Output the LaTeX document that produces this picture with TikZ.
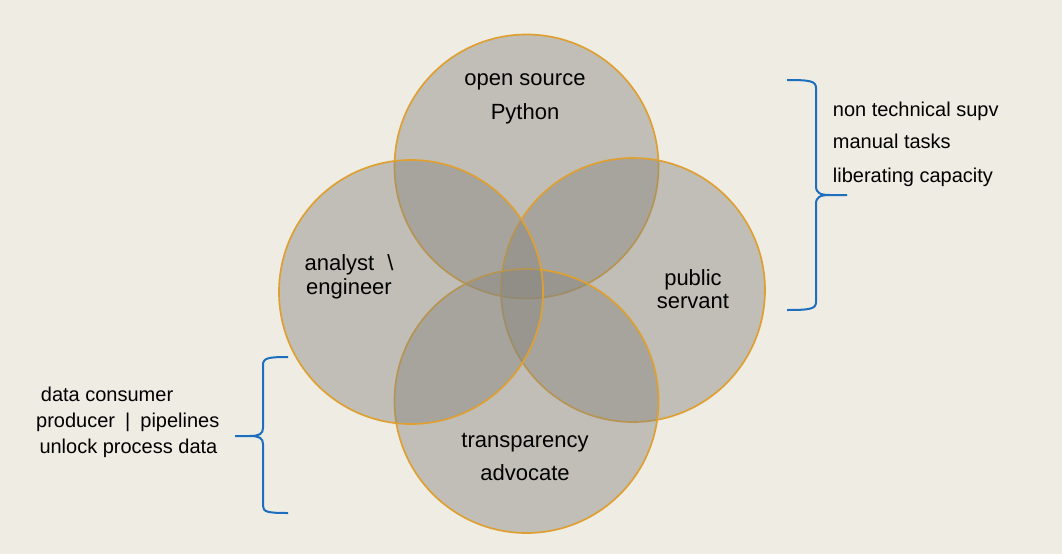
\documentclass[tikz,border=0pt]{standalone}
\usepackage{fontspec}
\setmainfont{Liberation Sans}
\definecolor{bgcol}{RGB}{239,236,228}
\definecolor{circfill}{RGB}{135,134,126}
\definecolor{circline}{RGB}{222,160,50}
\definecolor{bracecol}{RGB}{30,110,190}
\tikzset{
  venn/.style={circle, minimum size=264pt, inner sep=0pt, fill=circfill, fill opacity=0.45, draw=circline, draw opacity=1, line width=1.7pt},
  clabel/.style={anchor=base, inner sep=0pt, font=\fontsize{22}{26}\selectfont, text=black},
  slabel/.style={anchor=base west, inner sep=0pt, font=\fontsize{20}{24}\selectfont, text=black},
  bracepath/.style={draw=bracecol, line width=2pt}
}
\begin{document}
\begin{tikzpicture}[x=1pt,y=-1pt]
\fill[bgcol] (0,0) rectangle (1062,554);
\useasboundingbox (0,0) rectangle (1062,554);
% circles (draw order matters for muted borders)
\node[venn] (top) at (526.5,166.5) {};
\node[venn] (right) at (633,290) {};
\node[venn] (bottom) at (526.5,401) {};
\node[venn] (left) at (411,292) {};
% circle labels
\node[clabel] (t1) at (525,85) {open source};
\node[clabel] (t2) at (525,119) {Python};
\node[clabel] (l1) at (349,270) {analyst\hspace{13pt}\textbackslash};
\node[clabel] (l2) at (349,294) {engineer};
\node[clabel] (r1) at (693,285) {public};
\node[clabel] (r2) at (693,308) {servant};
\node[clabel] (b1) at (525,447) {transparency};
\node[clabel] (b2) at (525,480) {advocate};
% side labels
\node[slabel] (s1) at (832.7,116) {non technical supv};
\node[slabel] (s2) at (832.7,148) {manual tasks};
\node[slabel] (s3) at (832.7,182) {liberating capacity};
\node[slabel] (p1) at (40.7,401) {data consumer};
\node[slabel] (p2) at (36,427) {producer\hspace{4.5pt} | \hspace{4.5pt}pipelines};
\node[slabel] (p3) at (39.3,453) {unlock process data};
% right brace
\coordinate (rbtop) at (787,80);
\coordinate (rbtip) at (847,195);
\coordinate (rbbot) at (787,310);
\draw[bracepath] (rbtop) .. controls (810,80) and (816,81) .. (816,88) -- (816,186) .. controls (816,193) and (820,195) .. (830,195) -- (rbtip);
\draw[bracepath] (830,195) .. controls (820,195) and (816,197) .. (816,204) -- (816,302) .. controls (816,309) and (810,310) .. (rbbot);
% left brace
\coordinate (lbtop) at (288,357);
\coordinate (lbtip) at (235,436);
\coordinate (lbbot) at (288,513);
\draw[bracepath] (lbtop) .. controls (268,357) and (263,358) .. (263,365) -- (263,428) .. controls (263,434) and (259,436) .. (250,436) -- (lbtip);
\draw[bracepath] (250,436) .. controls (259,436) and (263,438) .. (263,444) -- (263,506) .. controls (263,512) and (268,513) .. (lbbot);
\end{tikzpicture}
\end{document}
